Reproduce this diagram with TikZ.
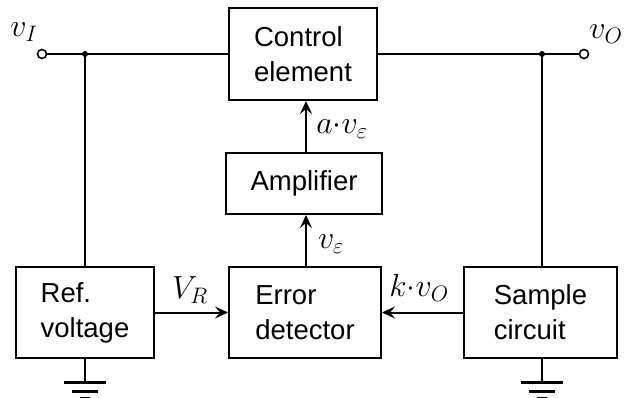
\documentclass[tikz,border=0pt]{standalone}
\usepackage{fix-cm}
\usepackage{fontspec}
\setmainfont{Liberation Sans}
\usetikzlibrary{arrows.meta}
\tikzset{
  blk/.style={draw, line width=2pt, rectangle, align=left, inner sep=0pt,
    font=\fontsize{27.5}{35}\selectfont},
  wire/.style={line width=2pt},
  sig/.style={line width=2pt, -{Stealth[length=13pt,width=12pt,inset=5pt]}},
  term/.style={circle, draw, fill=white, line width=1.6pt, minimum size=9pt, inner sep=0pt},
  dot/.style={circle, fill=black, minimum size=6pt, inner sep=0pt},
  lbl/.style={inner sep=0pt, font=\fontsize{32}{36}\selectfont},
  gbar/.style={line width=3pt}
}
\begin{document}
\begin{tikzpicture}[x=1pt,y=-1pt]
\useasboundingbox (0,0) rectangle (626,398);
\node[blk, minimum width=148pt, minimum height=92pt] (ctrl) at (303,54) {Control\\element};
\node[blk, minimum width=156pt, minimum height=61pt] (amp) at (304,183.5) {Amplifier};
\node[blk, minimum width=138pt, minimum height=91pt] (ref) at (85,312.5) {Ref.\\voltage};
\node[blk, minimum width=152pt, minimum height=91pt] (err) at (305,312.5) {Error\\detector};
\node[blk, minimum width=153pt, minimum height=91pt] (samp) at (540.5,312.5) {Sample\\circuit};

\coordinate (aX) at (306,0);
\node[dot] (j1) at (85,54) {};
\node[dot] (j2) at (542,54) {};
\draw[wire] (ctrl.west) -- (j1.center);
\draw[wire] (ctrl.east) -- (j2.center);
\node[term] (vi) at (42,54) {};
\node[term] (vo) at (584,54) {};
\draw[wire] (vi) -- (j1.center);
\draw[wire] (j2.center) -- (vo);
\draw[wire] (j1.center) -- (ref.north -| j1);
\draw[wire] (j2.center) -- (samp.north -| j2);

\draw[sig] (amp.north -| aX) -- (ctrl.south -| aX);
\draw[sig] (err.north -| aX) -- (amp.south -| aX);
\draw[sig] (ref.east) -- (err.west);
\draw[sig] (samp.west) -- (err.east);

% grounds
\coordinate (g1) at (85,382);
\coordinate (g2) at (542,382);
\draw[wire] (ref.south) -- (g1);
\draw[wire] (samp.south -| g2) -- (g2);
\foreach \g in {g1,g2}{
  \draw[gbar] ([xshift=-21pt]\g) -- ([xshift=21pt]\g);
  \draw[gbar] ([xshift=-13pt,yshift=-9pt]\g) -- ([xshift=13pt,yshift=-9pt]\g);
  \draw[gbar] ([xshift=-5pt,yshift=-16pt]\g) -- ([xshift=5pt,yshift=-16pt]\g);
}

\node[lbl] (lvi) at (24,32) {$v_I$};
\node[lbl] (lvo) at (606,34) {$v_O$};
\node[lbl] (lav) at (342,129) {$a{\cdot}v_\varepsilon$};
\node[lbl] (lve) at (331,244) {$v_\varepsilon$};
\node[lbl] (lvr) at (190,290) {$V_R$};
\node[lbl] (lkv) at (419,288) {$k{\cdot}v_O$};
\end{tikzpicture}
\end{document}
